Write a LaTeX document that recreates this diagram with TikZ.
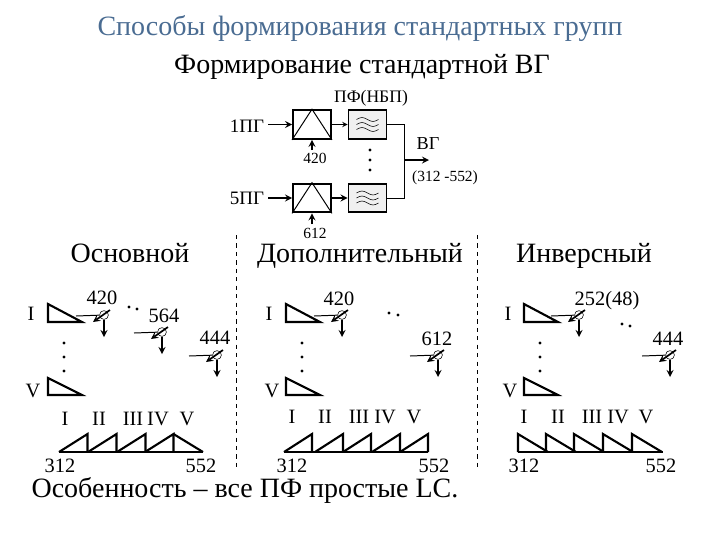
\documentclass[tikz,border=0pt]{standalone}
\usepackage{fontspec}
\setmainfont{Liberation Serif}
\definecolor{titleblue}{RGB}{74,108,146}
\tikzset{
  lab/.style={inner sep=0pt,anchor=base,font=\fontsize{14.5}{16}\selectfont},
  smalllab/.style={inner sep=0pt,anchor=base,font=\fontsize{11}{13}\selectfont},
  head/.style={inner sep=0pt,anchor=base,font=\fontsize{19.9}{22}\selectfont},
  box/.style={draw,line width=1.3pt,minimum width=.95cm,minimum height=.72cm,inner sep=0pt},
  filt/.style={box,fill=gray!12},
  mixnode/.style={draw,circle,fill=white,thin,minimum size=.22cm,inner sep=0pt},
  pt/.style={fill,circle,minimum size=.08cm,inner sep=0pt},
  sig/.style={->,>=stealth,line width=1.2pt},
  wire/.style={line width=.7pt},
  saw/.style={line width=1.5pt,line join=miter}
}
% mixer with its input, control arrow and output
\newcommand{\mixer}[3]{
  \node[mixnode] (#1) at (#2,#3) {};
  \path (#1) ++(-28,1) coordinate (#1in);
  \path (#1) ++(6,-5) coordinate (#1up);
  \path (#1) ++(-11,7) coordinate (#1dn);
  \path (#1) ++(0,22) coordinate (#1out);
  \draw[wire] (#1in) -- (#1);
  \draw[sig] (#1up) -- (#1dn);
  \draw[sig] (#1) -- (#1out);
}
\begin{document}
\begin{tikzpicture}[x=.025cm,y=-.025cm]
\useasboundingbox (0,0) rectangle (720,540);
\node[head,text=titleblue] (title) at (360,35.5) {Способы формирования стандартных групп};
\node[head] (subtitle) at (362,73.5) {Формирование стандартной ВГ};
\node[head] (note) at (245,497) {Особенность – все ПФ простые LC.};

% top block
\node[box] (mxa) at (312,124.5) {};
\node[filt] (fla) at (367.5,124.5) {};
\node[box] (mxb) at (312,198) {};
\node[filt] (flb) at (367.5,198) {};
\foreach \m in {mxa,mxb}
  {\draw[wire] (\m.south west) -- (\m.north) -- (\m.south east);}
\foreach \f in {fla,flb}
  \foreach \d in {-5,0,5}
    {\draw[thin] (\f.center) ++(-11,\d) sin ++(5.5,-2) cos ++(5.5,2) sin ++(5.5,2) cos ++(5.5,-2);}
\node[lab,font=\fontsize{13.5}{15}\selectfont] (pga) at (247,132) {1ПГ};
\node[lab,font=\fontsize{13.5}{15}\selectfont] (pgb) at (247,204) {5ПГ};
\node[smalllab] (fa) at (315,163) {420};
\node[smalllab] (fb) at (315,238) {612};
\node[smalllab,font=\fontsize{12.5}{14}\selectfont] (pf) at (371,102) {ПФ(НБП)};
\node[lab,font=\fontsize{13}{15}\selectfont] (vg) at (428,149) {ВГ};
\node[smalllab] (band) at (445,181) {(312 -552)};
\coordinate (ina) at (268,124.5);
\coordinate (inb) at (268,198);
\coordinate (fda) at (312,150);
\coordinate (fdb) at (312,224);
\coordinate (sum) at (404,160);
\coordinate (out) at (429,160);
\draw[sig] (ina) -- (mxa);
\draw[sig] (inb) -- (mxb);
\draw[->,>=stealth,wire] (mxa) -- (fla);
\draw[sig] (mxb) -- (flb);
\draw[sig] (fda) -- (mxa.south);
\draw[sig] (fdb) -- (mxb.south);
\draw[wire] (fla.east) -| (sum);
\draw[wire] (flb.east) -| (sum);
\draw[sig] (sum) -- (out);
\foreach \y in {150,160,170}
  {\node[pt] at (370,\y) {};}

% separators
\draw[dashed,line width=.7pt] (236,235) -- (236,470);
\draw[dashed,line width=.7pt] (477,235) -- (477,470);

\node[head] (hda) at (130,262) {Основной};
\node[head] (hdb) at (360,262) {Дополнительный};
\node[head] (hdc) at (584,262) {Инверсный};

% groups I...V in the three panels
\foreach \x/\lx/\vx in {48/31/33, 286/269/272, 524/508/510}
{
  \draw[saw] (\x,304) -- (\x,322) -- (\x+34,322) -- cycle;
  \draw[saw] (\x,378) -- (\x,395) -- (\x+34,395) -- cycle;
  \node[lab] at (\lx,320) {I};
  \node[lab] at (\vx,397) {V};
  \foreach \y in {343,357,371}
    {\node[pt] at (\x+16,\y) {};}
}

% mixers
\mixer{ma}{104}{315}
\mixer{mb}{162}{332}
\mixer{mc}{217}{355}
\mixer{md}{342}{315}
\mixer{me}{438}{355}
\mixer{mf}{579}{315}
\mixer{mg}{670}{355}
\foreach \n/\x/\y in {420/102/304, 564/164/322, 444/215/344, 420/339/305,
    612/437/345, 252(48)/607/305, 444/668/345}
  {\node[lab] at (\x,\y) {\n};}
\foreach \x/\y in {129/307, 137/309, 389/313, 398/315, 622/324, 630/326}
  {\node[pt] at (\x,\y) {};}

% spectra
\draw[saw] (59,452) -- (203,452);
\foreach \x in {59,88,117,145}
  {\draw[saw] (\x,452) -- (\x+28.5,434) -- (\x+28.5,452);}
\draw[saw] (173.5,434) -- (203,452);
\draw[saw] (284,452) -- (428,452);
\foreach \x in {284,315,343,372,400}
  {\draw[saw] (\x,452) -- (\x+28,434) -- (\x+28,452);}
\draw[saw] (518,452) -- (663,452);
\foreach \x in {518,546,574,603,632}
  {\draw[saw] (\x,452) -- (\x,434) -- (\x+30,452);}

\foreach \n/\x/\y in {I/65/425, II/99/425, III/133/425, IV/158/425, V/187/425,
    I/292/423, II/325/423, III/359/423, IV/385/423, V/414/423,
    I/524/423, II/558/423, III/592/423, IV/618/423, V/646/423,
    312/60/472, 552/201/472, 312/292/472, 552/434/472, 312/524/472, 552/661/472}
  {\node[lab] at (\x,\y) {\n};}
\end{tikzpicture}
\end{document}
